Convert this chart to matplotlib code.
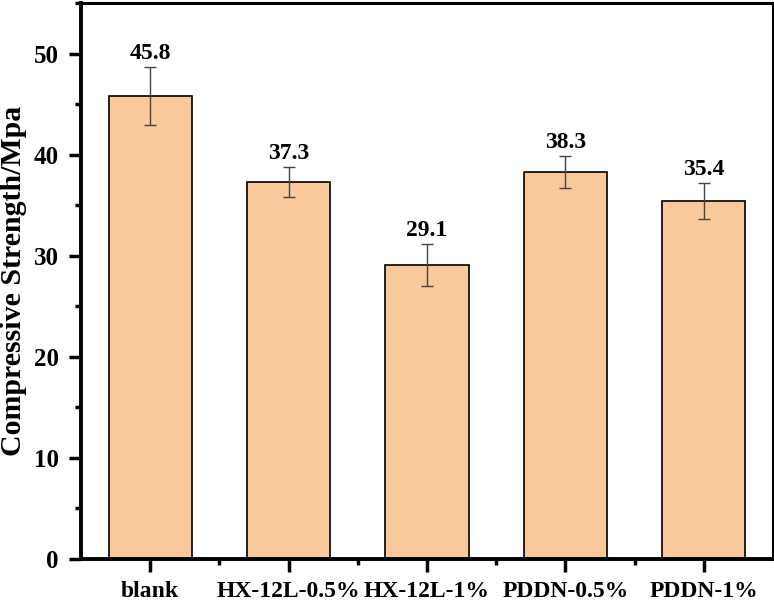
import matplotlib
matplotlib.use('Agg')
import matplotlib.pyplot as plt
import numpy as np
from matplotlib.ticker import MultipleLocator, FixedLocator

categories = ['blank', 'HX-12L-0.5%', 'HX-12L-1%', 'PDDN-0.5%', 'PDDN-1%']
strength = [45.8, 37.3, 29.1, 38.3, 35.4]
errors = [2.9, 1.5, 2.1, 1.6, 1.8]

plt.rcParams['font.family'] = ['Liberation Serif', 'DejaVu Serif']
plt.rcParams['font.weight'] = 'bold'

fig = plt.figure(figsize=(7.74, 6.03), dpi=100)
ax = fig.add_axes([81 / 774, 1 - 559 / 603, 692 / 774, 556 / 603])

x = np.arange(len(categories))
ax.bar(x, strength, width=0.6, color='#F9C89B', edgecolor='black', linewidth=1.2,
       yerr=errors, capsize=4, error_kw=dict(ecolor='#444444', elinewidth=1, capthick=1))

for xi, v, e in zip(x, strength, errors):
    ax.text(xi, v + e + 0.3, '%.1f' % v, ha='center', va='bottom', fontsize=17, fontweight='bold')

ax.set_xlim(-0.5, 4.5)
ax.set_ylim(0, 55)
ax.set_xticks(x)
ax.set_xticklabels(categories, fontsize=17, fontweight='bold')
ax.xaxis.set_minor_locator(FixedLocator(x[:-1] + 0.5))
ax.yaxis.set_major_locator(MultipleLocator(10))
ax.yaxis.set_minor_locator(MultipleLocator(5))
ax.set_ylabel('Compressive Strength/Mpa', fontsize=21.5, fontweight='bold', labelpad=5)

for lab in ax.get_yticklabels():
    lab.set_fontsize(18)
    lab.set_fontweight('bold')

ax.tick_params(axis='both', which='major', direction='out', length=9, width=2.5, pad=7)
ax.tick_params(axis='both', which='minor', direction='out', length=4.5, width=2.5)
ax.tick_params(axis='x', which='major', pad=7)
for s in ['left', 'bottom']:
    ax.spines[s].set_linewidth(2.8)
for s in ['top', 'right']:
    ax.spines[s].set_linewidth(2.2)

fig.savefig('out.png', dpi=100)
